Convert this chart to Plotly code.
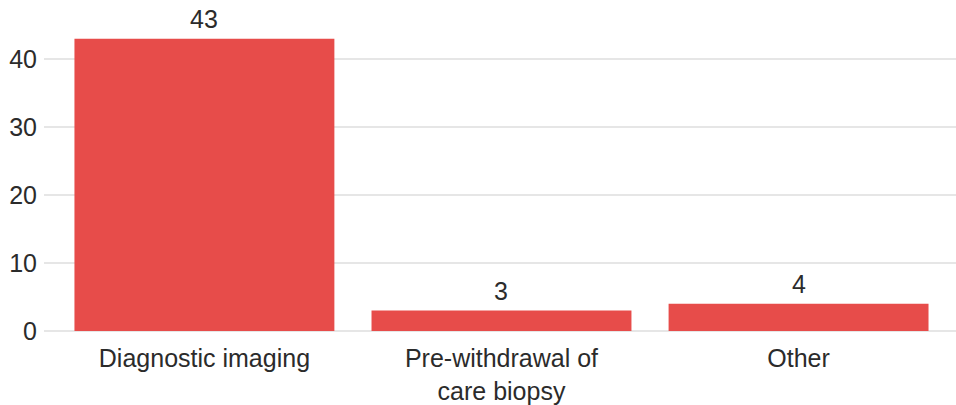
import plotly.graph_objects as go

categories = ["Diagnostic imaging", "Pre-withdrawal of<br>care biopsy", "Other"]
counts = [43, 3, 4]
y_ticks = [0, 10, 20, 30, 40]

fig = go.Figure(go.Bar(
    x=categories, y=counts,
    marker=dict(color="rgb(231,76,74)", line=dict(width=0)),
    cliponaxis=False,
))
for c, v in zip(categories, counts):
    fig.add_annotation(x=c, y=v, text=str(v), showarrow=False, yanchor="bottom",
                       yshift=4, font=dict(size=25, color="#2b2b2b"))
fig.update_layout(
    width=956, height=405,
    margin=dict(l=44, r=0, t=0, b=74),
    paper_bgcolor="white", plot_bgcolor="white",
    font=dict(family="Liberation Sans, Arial, sans-serif", size=25, color="#2b2b2b"),
    bargap=0.125,
    showlegend=False,
)
fig.update_xaxes(range=[-0.54, 2.53], showgrid=False, showline=False, ticks="",
                 tickfont=dict(size=25), ticklabelstandoff=10)
fig.update_yaxes(range=[0, 48.7], tickvals=y_ticks, showgrid=True, gridcolor="#e6e6e6", gridwidth=1.5,
                 zeroline=True, zerolinecolor="#e6e6e6", zerolinewidth=1.5, showline=False,
                 ticks="", tickfont=dict(size=25), ticklabelstandoff=6)
fig.write_html("out.html")
